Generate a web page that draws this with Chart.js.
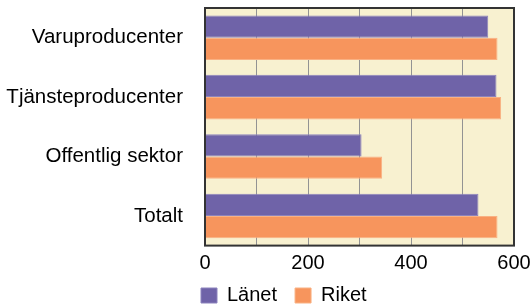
<!DOCTYPE html>
<html><head><meta charset="utf-8">
<script src="https://cdn.jsdelivr.net/npm/chart.js@4/dist/chart.umd.min.js"></script>
<style>html,body{margin:0;padding:0;background:#fff}#w{width:532px;height:305px;position:relative}</style>
</head><body><div id="w"><canvas id="c"></canvas></div>
<script>
const categories = ["Varuproducenter", "Tjänsteproducenter", "Offentlig sektor", "Totalt"];
const seriesNames = ["Länet", "Riket"];
const lanet = [550, 566, 304, 531];
const riket = [568, 575, 344, 568];
const xTickLabels = [0, 200, 400, 600];

const FONT = "'Liberation Sans', Arial, sans-serif";
const LEGEND_H = 26;

const plotBg = {
  id: 'plotBg',
  beforeLayout(chart) {
    const lg = chart.legend;
    if (lg && !lg._patched) {
      const f = lg.fit.bind(lg);
      lg.fit = function () { f(); this.height = LEGEND_H; };
      lg._patched = true;
    }
  },
  beforeDraw(chart) {
    const {ctx, chartArea: a} = chart;
    ctx.save();
    ctx.fillStyle = '#F8F1D0';
    ctx.fillRect(a.left, a.top, a.right - a.left, a.bottom - a.top);
    ctx.restore();
  },
  afterDraw(chart) {
    const {ctx, chartArea: a} = chart;
    ctx.save();
    ctx.strokeStyle = '#333333';
    ctx.lineWidth = 2;
    ctx.strokeRect(a.left, a.top, a.right - a.left, a.bottom - a.top);
    ctx.restore();
  },
  afterLayout(chart) {
    const lg = chart.legend;
    lg.left = 183; lg.right = 532;
    lg.top = 267.5; lg.bottom = 305;
    lg.width = lg.right - lg.left; lg.height = lg.bottom - lg.top;
  }
};

new Chart(document.getElementById('c'), {
  type: 'bar',
  data: {
    labels: categories,
    datasets: [
      {label: seriesNames[0], data: lanet, backgroundColor: '#6F63A8', borderColor: '#8C83BD', borderWidth: 1},
      {label: seriesNames[1], data: riket, backgroundColor: '#F7955D', borderColor: '#F9B183', borderWidth: 1}
    ]
  },
  options: {
    indexAxis: 'y',
    responsive: true,
    maintainAspectRatio: false,
    animation: false,
    devicePixelRatio: 1,
    layout: {padding: {top: 8, right: 18, left: 0, bottom: 0}},
    datasets: {bar: {categoryPercentage: 0.75, barPercentage: 1.0}},
    scales: {
      x: {
        min: 0, max: 600,
        ticks: {
          stepSize: 100,
          color: '#000',
          font: {family: FONT, size: 20},
          padding: 6,
          autoSkip: false,
          maxRotation: 0,
          callback: (v) => xTickLabels.includes(v) ? String(v) : ''
        },
        grid: {color: '#939393', lineWidth: 1, drawTicks: false},
        border: {display: false},
        afterFit: (s) => { s.height = 305 - 245.6 - LEGEND_H; s.paddingRight = 0; s.paddingLeft = 0; }
      },
      y: {
        ticks: {color: '#000', font: {family: FONT, size: 20.5}, padding: 22},
        grid: {display: false, drawTicks: false},
        border: {display: false},
        afterFit: (s) => { s.width = 205; s.paddingTop = 0; s.paddingBottom = 0; }
      }
    },
    plugins: {
      legend: {
        position: 'bottom',
        align: 'start',
        labels: {
          color: '#000',
          font: {family: FONT, size: 20},
          boxWidth: 16, boxHeight: 15,
          padding: 18
        }
      },
      tooltip: {enabled: false}
    }
  },
  plugins: [plotBg]
});
</script>
</body></html>
